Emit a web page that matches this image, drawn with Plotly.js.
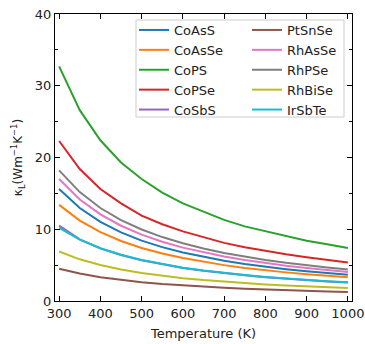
<!DOCTYPE html>
<html>
<head>
<meta charset="utf-8">
<script src="https://cdn.plot.ly/plotly-3.0.1.min.js"></script>
<style>html,body{margin:0;padding:0;background:#fff;}#chart{width:365px;height:344px;}</style>
</head>
<body>
<div id="chart"></div>
<script>
const temperature = [300,350,400,450,500,550,600,650,700,750,800,850,900,950,1000];
const CoAsS  = [15.6,12.95,11.02,9.56,8.42,7.51,6.76,6.14,5.61,5.17,4.78,4.44,4.14,3.88,3.65];
const CoAsSe = [13.4,11.20,9.59,8.36,7.39,6.62,5.98,5.45,5.00,4.61,4.28,3.99,3.73,3.50,3.30];
const CoPS   = [32.7,26.6,22.4,19.3,17.0,15.1,13.6,12.4,11.3,10.4,9.7,9.0,8.4,7.9,7.4];
const CoPSe  = [22.3,18.4,15.6,13.6,11.9,10.7,9.7,8.85,8.1,7.5,6.95,6.5,6.1,5.72,5.38];
const CoSbS  = [10.5,8.6,7.33,6.41,5.68,5.10,4.61,4.21,3.87,3.58,3.32,3.10,2.90,2.73,2.57];
const PtSnSe = [4.5,3.82,3.31,2.92,2.61,2.36,2.15,1.98,1.83,1.70,1.58,1.49,1.40,1.32,1.25];
const RhAsSe = [17.0,14.15,12.07,10.49,9.25,8.26,7.44,6.77,6.19,5.71,5.28,4.91,4.59,4.30,4.05];
const RhPSe  = [18.2,15.18,12.96,11.28,9.97,8.91,8.04,7.31,6.70,6.18,5.73,5.33,4.98,4.68,4.40];
const RhBiSe = [6.9,5.81,5.01,4.39,3.90,3.51,3.18,2.91,2.68,2.48,2.31,2.16,2.03,1.91,1.80];
const IrSbTe = [10.2,8.56,7.36,6.44,5.71,5.13,4.64,4.24,3.90,3.61,3.35,3.13,2.93,2.76,2.60];

const names  = ['CoAsS','CoAsSe','CoPS','CoPSe','CoSbS','PtSnSe','RhAsSe','RhPSe','RhBiSe','IrSbTe'];
const series = [CoAsS,CoAsSe,CoPS,CoPSe,CoSbS,PtSnSe,RhAsSe,RhPSe,RhBiSe,IrSbTe];
const colors = ['#1f77b4','#ff7f0e','#2ca02c','#d62728','#9467bd','#8c564b','#e377c2','#7f7f7f','#bcbd22','#17becf'];

const traces = series.map((y,i)=>({
  x: temperature, y: y, name: names[i], type:'scatter', mode:'lines',
  line:{color:colors[i], width:2},
  legend: i<5 ? 'legend' : 'legend2'
}));

const font = {family:'DejaVu Sans, sans-serif', size:13, color:'#222'};
const legendCommon = {bgcolor:'rgba(0,0,0,0)', borderwidth:0, font:font, xref:'paper', yref:'paper', xanchor:'left', yanchor:'top', tracegroupgap:0};

const layout = {
  width:365, height:344,
  margin:{l:55, r:13, t:14, b:43},
  paper_bgcolor:'#fff', plot_bgcolor:'#fff',
  font: font,
  showlegend:true,
  legend: Object.assign({}, legendCommon, {x:(134-55)/297, y:(301-15)/287}),
  legend2: Object.assign({}, legendCommon, {x:(247-55)/297, y:(301-15)/287}),
  xaxis:{
    range:[290,1010], tickvals:[300,400,500,600,700,800,900,1000],
    ticks:'inside', ticklen:5, tickwidth:1, tickcolor:'#000',
    showline:true, linecolor:'#000', linewidth:1.2, mirror:'ticks',
    showgrid:false, zeroline:false, tickfont:font, automargin:false,
    title:{text:'Temperature (K)', font:font, standoff:9}
  },
  yaxis:{
    range:[0,40], dtick:10, tick0:0,
    ticks:'inside', ticklen:5, tickwidth:1, tickcolor:'#000',
    minor:{dtick:5, ticks:'inside', ticklen:3, tickcolor:'#000', showgrid:false},
    showline:true, linecolor:'#000', linewidth:1.2, mirror:'ticks',
    showgrid:false, zeroline:false, tickfont:font, automargin:false,
    title:{text:'κ<sub>L</sub>(Wm<sup>−1</sup>K<sup>−1</sup>)', font:{family:font.family, size:12, color:'#222'}, standoff:9}
  },
  shapes:[{
    type:'rect', xref:'paper', yref:'paper',
    x0:(136-55)/297, x1:(344-55)/297, y0:(301-117)/287, y1:(301-20)/287,
    line:{color:'#cccccc', width:1}, fillcolor:'rgba(255,255,255,0.8)', layer:'above'
  }]
};

Plotly.newPlot('chart', traces, layout, {staticPlot:true, displayModeBar:false});
</script>
</body>
</html>
